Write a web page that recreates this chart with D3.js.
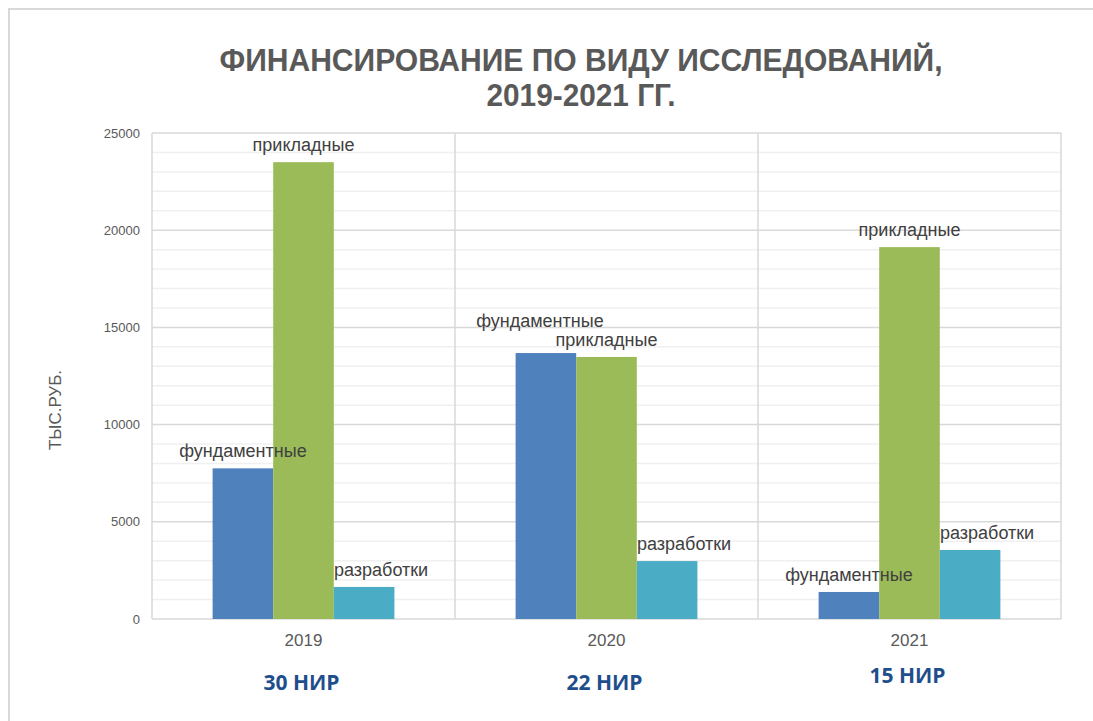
<!DOCTYPE html>
<html>
<head>
<meta charset="utf-8">
<script src="https://cdn.jsdelivr.net/npm/d3@7"></script>
<style>
  body { margin: 0; background: #fff; }
  svg { font-family: "Liberation Sans", Arial, sans-serif; }
</style>
</head>
<body>
<script>
// data (thousand rub.)
var years = ['2019', '2020', '2021'];
var seriesNames = ['фундаментные', 'прикладные', 'разработки'];
var fundamental = [7750, 13680, 1390];
var applied = [23500, 13480, 19130];
var development = [1650, 2980, 3550];
var projectCounts = ['30 НИР', '22 НИР', '15 НИР'];
var yTicks = [0, 5000, 10000, 15000, 20000, 25000];

var colors = ['#4f81bd', '#9bbb59', '#4bacc6'];

// label nudges so the labels sit like in the original
var labelNudge = [
	[[0, 0], [0, 0], [17, 0]],
	[[-6, -15], [0, 0], [17, 0]],
	[[0, 0], [0, 0], [17, 0]]
];

var W = 1093, H = 721;
var plot = { left: 152, right: 1061, top: 133, bottom: 619 };

var svg = d3.select('body').append('svg')
	.attr('width', W)
	.attr('height', H);

// outer frame
svg.append('path')
	.attr('d', 'M9,' + H + 'V9H' + W)
	.attr('fill', 'none')
	.attr('stroke', '#d9d9d9')
	.attr('stroke-width', 2);

var values = [fundamental, applied, development];
var data = [];
years.forEach(function(y, i) {
	seriesNames.forEach(function(s, j) {
		data.push({ year: y, series: s, value: values[j][i], yi: i, si: j });
	});
});

var x = d3.scaleBand().domain(years).range([plot.left, plot.right]).padding(0);
var xs = d3.scaleBand().domain(seriesNames).range([x.bandwidth() / 5, x.bandwidth() * 4 / 5]);
var y = d3.scaleLinear().domain([0, 25000]).range([plot.bottom, plot.top]);

// minor grid
var g = svg.append('g');
g.selectAll('.minor')
	.data(d3.range(1000, 25000, 1000).filter(function(v) { return v % 5000 !== 0; }))
	.enter().append('line')
	.attr('x1', plot.left).attr('x2', plot.right)
	.attr('y1', function(d) { return y(d); })
	.attr('y2', function(d) { return y(d); })
	.attr('stroke', '#f0f0f0')
	.attr('stroke-width', 1.5);

// major grid
g.selectAll('.major')
	.data(yTicks)
	.enter().append('line')
	.attr('x1', plot.left).attr('x2', plot.right)
	.attr('y1', function(d) { return y(d); })
	.attr('y2', function(d) { return y(d); })
	.attr('stroke', '#d9d9d9')
	.attr('stroke-width', 1.5);

// vertical separators between categories
g.selectAll('.vsep')
	.data(years.map(function(d) { return x(d); }).concat([plot.right]))
	.enter().append('line')
	.attr('x1', function(d) { return d; })
	.attr('x2', function(d) { return d; })
	.attr('y1', plot.top).attr('y2', plot.bottom)
	.attr('stroke', '#d9d9d9')
	.attr('stroke-width', 1.5);

// y axis tick labels
svg.append('g')
	.selectAll('text')
	.data(yTicks)
	.enter().append('text')
	.attr('x', 140)
	.attr('y', function(d) { return y(d); })
	.attr('dy', '0.35em')
	.attr('text-anchor', 'end')
	.attr('font-size', '13px')
	.attr('fill', '#595959')
	.text(function(d) { return d; });

// bars
svg.append('g')
	.selectAll('rect')
	.data(data)
	.enter().append('rect')
	.attr('x', function(d) { return x(d.year) + xs(d.series); })
	.attr('width', xs.bandwidth())
	.attr('y', function(d) { return y(d.value); })
	.attr('height', function(d) { return y(0) - y(d.value); })
	.attr('fill', function(d) { return colors[d.si]; });

// data labels (series names)
svg.append('g')
	.selectAll('text')
	.data(data)
	.enter().append('text')
	.attr('x', function(d) { return x(d.year) + xs(d.series) + xs.bandwidth() / 2 + labelNudge[d.yi][d.si][0]; })
	.attr('y', function(d) { return y(d.value) - 11 + labelNudge[d.yi][d.si][1]; })
	.attr('text-anchor', 'middle')
	.attr('font-size', '18px')
	.attr('fill', '#404040')
	.text(function(d) { return d.series; });

// x axis labels
svg.append('g')
	.selectAll('text')
	.data(years)
	.enter().append('text')
	.attr('x', function(d) { return x(d) + x.bandwidth() / 2; })
	.attr('y', 646)
	.attr('text-anchor', 'middle')
	.attr('font-size', '17px')
	.attr('fill', '#595959')
	.text(function(d) { return d; });

// project counts under each year
svg.append('g')
	.selectAll('text')
	.data(projectCounts)
	.enter().append('text')
	.attr('x', function(d, i) { return x(years[i]) + x.bandwidth() / 2 - 2; })
	.attr('y', function(d, i) { return i === 2 ? 683 : 690; })
	.attr('text-anchor', 'middle')
	.style('font-family', '"Open Sans", sans-serif')
	.style('font-weight', 'bold')
	.style('font-size', '21px')
	.attr('fill', '#1f4e8c')
	.text(function(d) { return d; });

// y axis title
svg.append('text')
	.attr('transform', 'translate(61,410) rotate(-90)')
	.attr('text-anchor', 'middle')
	.attr('font-size', '17px')
	.attr('fill', '#595959')
	.text('ТЫС.РУБ.');

// chart title, two separate lines (narrow bold look via textLength)
svg.append('text')
	.attr('x', 581).attr('y', 71)
	.attr('text-anchor', 'middle')
	.style('font-weight', 'bold')
	.style('font-size', '31px')
	.attr('fill', '#595959')
	.attr('textLength', 723).attr('lengthAdjust', 'spacingAndGlyphs')
	.text('ФИНАНСИРОВАНИЕ ПО ВИДУ ИССЛЕДОВАНИЙ,');
svg.append('text')
	.attr('x', 581).attr('y', 106)
	.attr('text-anchor', 'middle')
	.style('font-weight', 'bold')
	.style('font-size', '31px')
	.attr('fill', '#595959')
	.attr('textLength', 189).attr('lengthAdjust', 'spacingAndGlyphs')
	.text('2019-2021 ГГ.');
</script>
</body>
</html>
